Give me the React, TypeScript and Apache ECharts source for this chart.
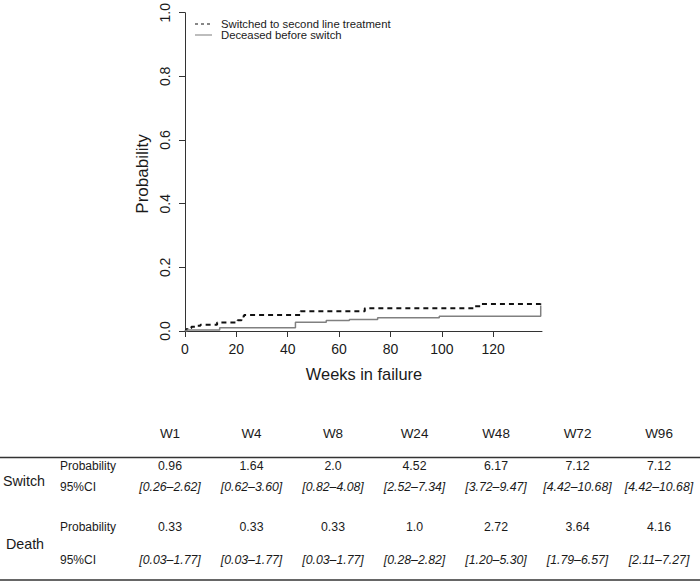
import React, { useEffect, useRef } from "react";
import * as echarts from "echarts";

// Cumulative incidence step curves (weeks, probability)
const switchWeeks = [0, 0.3, 0.6, 1, 2.5, 4, 6, 12.5, 20.5, 22, 23, 45, 70, 112.5, 115, 138.5, 138.5];
const switchProbs = [0, 0.0033, 0.0065, 0.0096, 0.013, 0.0164, 0.02, 0.027, 0.034, 0.0452, 0.05, 0.0617, 0.0712, 0.078, 0.085, 0.088, 0.093];
const deathWeeks = [0, 0.8, 13.5, 43, 55, 64, 75, 99, 138.5, 138.5];
const deathProbs = [0, 0.0033, 0.01, 0.0272, 0.033, 0.0364, 0.0416, 0.046, 0.046, 0.08];

const xTicks = [0, 20, 40, 60, 80, 100, 120];

const legendNames = ["Switched to second line treatment", "Deceased before switch"];

// Table
const tableWeeks = ["W1", "W4", "W8", "W24", "W48", "W72", "W96"];
const switchProbText = ["0.96", "1.64", "2.0", "4.52", "6.17", "7.12", "7.12"];
const switchCIText = ["[0.26–2.62]", "[0.62–3.60]", "[0.82–4.08]", "[2.52–7.34]", "[3.72–9.47]", "[4.42–10.68]", "[4.42–10.68]"];
const deathProbText = ["0.33", "0.33", "0.33", "1.0", "2.72", "3.64", "4.16"];
const deathCIText = ["[0.03–1.77]", "[0.03–1.77]", "[0.03–1.77]", "[0.28–2.82]", "[1.20–5.30]", "[1.79–6.57]", "[2.11–7.27]"];
const groupNames = ["Switch", "Death"];
const rowNames = ["Probability", "95%CI"];

const FONT = "'Liberation Sans', Arial, Helvetica, sans-serif";
const TXT = "#1a1a1a";

export default function App() {
  const ref = useRef<HTMLDivElement>(null);
  useEffect(() => {
    document.body.style.margin = "0";
    const chart = echarts.init(ref.current!, null, { renderer: "svg" });

    const colX = tableWeeks.map((_, i) => 170 + 81.5 * i);
    const graphics: any[] = [];
    const txt = (text: string, x: number, y: number, size: number, extra: any = {}) => ({
      type: "text",
      x,
      y,
      style: { text, fontSize: size, fontFamily: FONT, fill: TXT, align: "center", verticalAlign: "middle", ...extra },
    });

    // legend
    graphics.push({ type: "line", shape: { x1: 195, y1: 24, x2: 211, y2: 24 }, style: { stroke: "#111", lineWidth: 1.1, lineDash: [3, 3] } });
    graphics.push({ type: "line", shape: { x1: 195, y1: 35, x2: 212, y2: 35 }, style: { stroke: "#888", lineWidth: 1.1 } });
    graphics.push(txt(legendNames[0], 221, 23.5, 11.3, { align: "left" }));
    graphics.push(txt(legendNames[1], 221, 34.5, 11.3, { align: "left" }));

    // axis titles
    graphics.push({
      type: "text",
      x: 142.5,
      y: 174,
      rotation: Math.PI / 2,
      style: { text: "Probability", fontSize: 17, fontFamily: FONT, fill: TXT, align: "center", verticalAlign: "middle" },
    });
    graphics.push(txt("Weeks in failure", 364, 374, 16.4));

    // table
    tableWeeks.forEach((w, i) => graphics.push(txt(w, colX[i], 433, 13.5)));
    graphics.push({ type: "line", shape: { x1: 0, y1: 457.5, x2: 700, y2: 457.5 }, style: { stroke: "#333", lineWidth: 1.6 } });
    graphics.push({ type: "line", shape: { x1: 0, y1: 580, x2: 700, y2: 580 }, style: { stroke: "#333", lineWidth: 1.6 } });
    const rowsY = [465.5, 486.5, 526.5, 559.5];
    graphics.push(txt(groupNames[0], 24, 481, 14.3));
    graphics.push(txt(groupNames[1], 25, 543.5, 14.3));
    rowsY.forEach((y, r) => graphics.push(txt(rowNames[r % 2], 60, y, 12, { align: "left" })));
    const rows = [switchProbText, switchCIText, deathProbText, deathCIText];
    rows.forEach((vals, r) =>
      vals.forEach((v, i) => graphics.push(txt(v, colX[i], rowsY[r], 12.3, r % 2 === 1 ? { fontStyle: "italic" } : {})))
    );

    chart.setOption({
      animation: false,
      backgroundColor: "#fff",
      grid: { left: 185, right: 158, top: 10, bottom: 251, containLabel: false },
      xAxis: {
        type: "value",
        min: 0,
        max: 139,
        axisLine: { show: true, lineStyle: { color: "#333", width: 1 } },
        axisTick: { show: true, length: 6, customValues: xTicks, lineStyle: { color: "#333" } },
        axisLabel: { customValues: xTicks, fontSize: 14, fontFamily: FONT, color: TXT, margin: 11 },
        splitLine: { show: false },
      },
      yAxis: {
        type: "value",
        min: 0,
        max: 1,
        interval: 0.2,
        axisLine: { show: true, lineStyle: { color: "#333", width: 1 } },
        axisTick: { show: true, length: 6, lineStyle: { color: "#333" } },
        axisLabel: {
          rotate: 90,
          fontSize: 14,
          fontFamily: FONT,
          color: TXT,
          margin: 13,
          formatter: (v: number) => v.toFixed(1),
        },
        splitLine: { show: false },
      },
      series: [
        {
          name: legendNames[0],
          type: "line",
          step: "end",
          showSymbol: false,
          data: switchWeeks.map((w, i) => [w, switchProbs[i]]),
          lineStyle: { color: "#111", width: 2, type: [5, 4] },
        },
        {
          name: legendNames[1],
          type: "line",
          step: "end",
          showSymbol: false,
          data: deathWeeks.map((w, i) => [w, deathProbs[i]]),
          lineStyle: { color: "#808080", width: 1.5 },
        },
      ],
      graphic: graphics,
    });
    return () => chart.dispose();
  }, []);
  return <div ref={ref} style={{ width: 700, height: 582 }} />;
}
